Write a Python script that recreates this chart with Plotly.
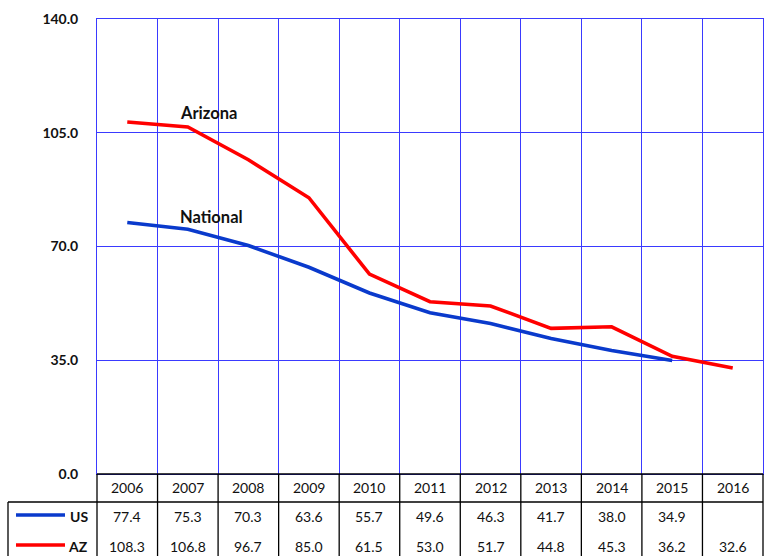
import plotly.graph_objects as go

years = ["2006", "2007", "2008", "2009", "2010", "2011", "2012", "2013", "2014", "2015", "2016"]
us_values = [77.4, 75.3, 70.3, 63.6, 55.7, 49.6, 46.3, 41.7, 38.0, 34.9, None]
az_values = [108.3, 106.8, 96.7, 85.0, 61.5, 53.0, 51.7, 44.8, 45.3, 36.2, 32.6]
y_ticks = [0, 35, 70, 105, 140]

W, H = 764, 556
L, R, T, B = 97, 1, 19, 82
PW = W - L - R
PH = H - T - B

BLUE = "#0A3ACC"
RED = "#FF0000"
GRID = "#3A3AFF"
FONT = "Lato"

def px_x(px):
    return (px - L) / PW

def px_y(py):
    return (H - B - py) / PH

n = len(years)

fig = go.Figure()
fig.add_trace(go.Scatter(x=years, y=az_values, mode="lines", name="AZ",
                         line=dict(color=RED, width=3.6), connectgaps=False))
fig.add_trace(go.Scatter(x=years, y=us_values, mode="lines", name="US",
                         line=dict(color=BLUE, width=3.6), connectgaps=False))

shapes = []
bottom = px_y(H + 2)
header_bottom = px_y(502)
shapes.append(dict(type="line", xref="paper", yref="paper", x0=0, x1=1, y0=0, y1=0,
                   line=dict(color="#000", width=1.3)))
shapes.append(dict(type="line", xref="paper", yref="paper", x0=px_x(8), x1=1,
                   y0=header_bottom, y1=header_bottom, line=dict(color="#000", width=1.3)))
shapes.append(dict(type="line", xref="paper", yref="paper", x0=px_x(8), x1=px_x(8),
                   y0=header_bottom, y1=bottom, line=dict(color="#000", width=1.3)))
for i in range(n + 1):
    xf = i / n
    shapes.append(dict(type="line", xref="paper", yref="paper", x0=xf, x1=xf,
                       y0=0, y1=bottom, line=dict(color="#000", width=1.3)))
shapes.append(dict(type="line", xref="paper", yref="paper", x0=px_x(16), x1=px_x(65),
                   y0=px_y(515), y1=px_y(515), line=dict(color=BLUE, width=3.6)))
shapes.append(dict(type="line", xref="paper", yref="paper", x0=px_x(16), x1=px_x(65),
                   y0=px_y(545), y1=px_y(545), line=dict(color=RED, width=3.6)))

annotations = []
cell_font = dict(family=FONT, size=14, color="#111")
for i, yr in enumerate(years):
    xc = (i + 0.5) / n
    annotations.append(dict(x=xc, xref="paper", y=px_y(488), yref="paper", text=yr,
                            showarrow=False, xanchor="center", yanchor="middle", font=cell_font))
    if us_values[i] is not None:
        annotations.append(dict(x=xc, xref="paper", y=px_y(516), yref="paper",
                                text=f"{us_values[i]:.1f}", showarrow=False,
                                xanchor="center", yanchor="middle", font=cell_font))
    if az_values[i] is not None:
        annotations.append(dict(x=xc, xref="paper", y=px_y(546), yref="paper",
                                text=f"{az_values[i]:.1f}", showarrow=False,
                                xanchor="center", yanchor="middle", font=cell_font))

bold_font = dict(family=FONT, size=14, color="#111", weight="bold")
annotations.append(dict(x=px_x(90), xref="paper", y=px_y(516), yref="paper", text="US",
                        showarrow=False, xanchor="right", yanchor="middle", font=bold_font))
annotations.append(dict(x=px_x(90), xref="paper", y=px_y(546), yref="paper", text="AZ",
                        showarrow=False, xanchor="right", yanchor="middle", font=bold_font))

label_font = dict(family=FONT, size=16.5, color="#111", weight="bold")
annotations.append(dict(x=px_x(178), xref="paper", y=px_y(113), yref="paper", text="Arizona",
                        showarrow=False, xanchor="left", yanchor="middle", font=label_font))
annotations.append(dict(x=px_x(178), xref="paper", y=px_y(217), yref="paper", text="National",
                        showarrow=False, xanchor="left", yanchor="middle", font=label_font))

fig.update_layout(
    width=W, height=H,
    margin=dict(l=L, r=R, t=T, b=B, pad=0),
    paper_bgcolor="white", plot_bgcolor="white",
    showlegend=False,
    shapes=shapes,
    annotations=annotations,
    xaxis=dict(type="category", categoryorder="array", categoryarray=years,
               range=[-0.5, n - 0.5], tickson="boundaries", showgrid=True,
               gridcolor=GRID, gridwidth=1, showticklabels=False, ticks="",
               showline=True, linecolor=GRID, linewidth=1, mirror=True, zeroline=False),
    yaxis=dict(range=[0, 140], tickvals=y_ticks, tickformat=".1f", showgrid=True,
               gridcolor=GRID, gridwidth=1, zeroline=False, ticks="",
               showline=True, linecolor=GRID, linewidth=1, mirror=True,
               ticklabelstandoff=15,
               tickfont=dict(family=FONT, size=14, color="#111", weight="bold")),
)

fig.write_html("out.html", config={"displayModeBar": False},
               post_script="document.body.style.margin='0';")
